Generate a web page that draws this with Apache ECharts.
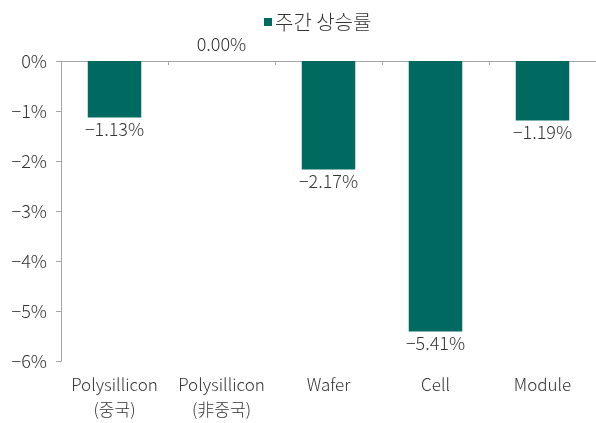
<!DOCTYPE html>
<html>
<head>
<meta charset="utf-8">
<script src="https://cdn.jsdelivr.net/npm/echarts@6/dist/echarts.min.js"></script>
<style>
  html, body { margin: 0; padding: 0; background: #fff; }
  #chart { width: 596px; height: 423px; }
</style>
</head>
<body>
<div id="chart"></div>
<script>
// 데이터
const categories = ['Polysillicon\n(중국)', 'Polysillicon\n(非중국)', 'Wafer', 'Cell', 'Module'];
const weeklyChange = [-1.13, 0.00, -2.17, -5.41, -1.19];
const seriesName = '주간 상승률';

const FONT = '"Noto Sans CJK KR", "Noto Sans", sans-serif';
const textColor = '#333333';
const lineColor = '#a6a6a6';

function fmt(v, digits) {
  let s = Math.abs(v).toFixed(digits) + '%';
  return v < 0 ? '\u2212' + s : s;
}

let chart = echarts.init(document.getElementById('chart'));

let option = {
  animation: false,
  textStyle: { fontFamily: FONT },
  legend: {
    top: 7,
    left: 259,
    icon: 'rect',
    itemWidth: 8,
    itemHeight: 8,
    itemGap: 4,
    textStyle: { fontSize: 20, color: textColor, fontFamily: FONT, fontWeight: 300, padding: [0, 0, 0, -2] },
    data: [seriesName]
  },
  grid: { left: 61, right: 0, top: 61, bottom: 62 },
  xAxis: [
    {
      type: 'category',
      data: categories,
      position: 'bottom',
      axisLine: { show: false, onZero: false },
      axisTick: { show: false },
      axisLabel: {
        interval: 0, fontSize: 17, color: textColor, fontFamily: FONT, fontWeight: 300,
        margin: 11, lineHeight: 25
      }
    },
    {
      type: 'category',
      data: categories,
      position: 'top',
      axisLine: { show: true, onZero: false, lineStyle: { color: lineColor, width: 1 } },
      axisTick: { show: true, inside: true, length: 4, lineStyle: { color: lineColor } },
      axisLabel: { show: false }
    }
  ],
  yAxis: {
    type: 'value',
    min: -6,
    max: 0,
    interval: 1,
    axisLine: { show: true, lineStyle: { color: lineColor, width: 1 } },
    axisTick: { show: true, length: 5, lineStyle: { color: lineColor } },
    splitLine: { show: false },
    axisLabel: {
      fontSize: 18, color: textColor, fontFamily: FONT, fontWeight: 300, margin: 14,
      formatter: v => fmt(v, 0)
    }
  },
  series: [
    {
      name: seriesName,
      type: 'bar',
      xAxisIndex: 0,
      barWidth: '50%',
      itemStyle: { color: '#006a60' },
      data: weeklyChange.map(v => ({
        value: v,
        label: { position: v < 0 ? 'bottom' : 'top', distance: v < 0 ? 3 : 8 }
      })),
      label: {
        show: true,
        fontSize: 18,
        color: textColor,
        fontFamily: FONT,
        fontWeight: 300,
        formatter: p => fmt(p.value, 2)
      }
    }
  ]
};

chart.setOption(option);
</script>
</body>
</html>
